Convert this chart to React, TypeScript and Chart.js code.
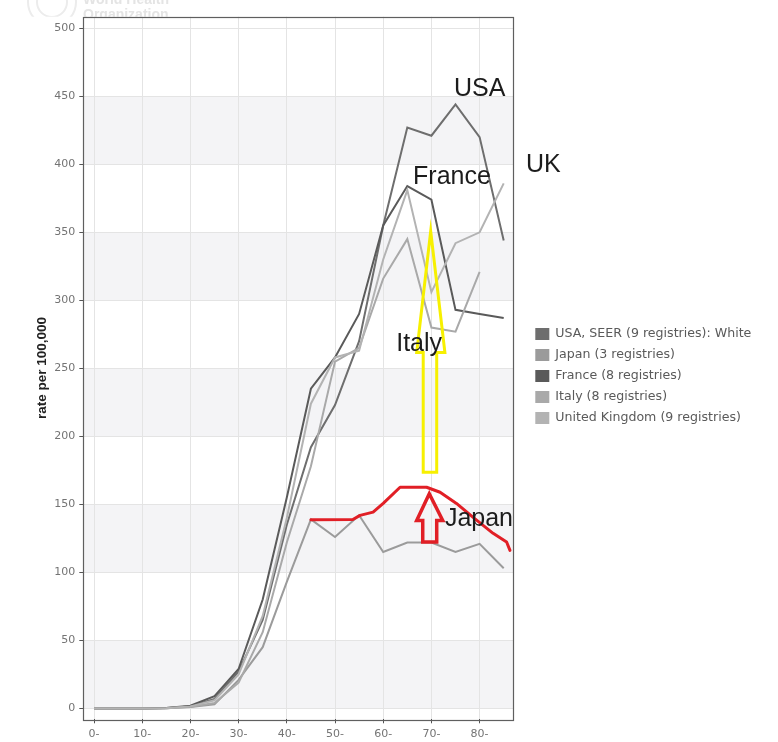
import React, { useEffect, useRef } from 'react';
import { Chart, registerables } from 'chart.js';

Chart.register(...registerables);

// ---- data ----
const ageGroups = [0, 5, 10, 15, 20, 25, 30, 35, 40, 45, 50, 55, 60, 65, 70, 75, 80, 85];
const xTicks = [0, 10, 20, 30, 40, 50, 60, 70, 80];
const yTicks = [0, 50, 100, 150, 200, 250, 300, 350, 400, 450, 500];

const usa = [0, 0, 0, 0.3, 1.5, 7, 27, 65, 135, 192, 223, 270, 355, 427, 421, 444, 420, 344];
const japan = [0, 0, 0, 0.2, 1, 3, 21, 45, 93, 139, 126, 142, 115, 122, 122, 115, 121, 103];
const france = [0, 0, 0, 0.3, 2, 9, 29, 80, 155, 235, 258, 290, 355, 384, 374, 293, 290, 287];
const italy = [0, 0, 0, 0.2, 1.2, 4, 19, 56, 122, 178, 255, 265, 316, 345, 280, 277, 321];
const uk = [0, 0, 0, 0.2, 1.5, 6, 25, 68, 140, 224, 258, 263, 330, 381, 306, 342, 350, 386];

const seriesNames = [
  'USA, SEER (9 registries): White',
  'Japan (3 registries)',
  'France (8 registries)',
  'Italy (8 registries)',
  'United Kingdom (9 registries)',
];
const seriesValues = [usa, japan, france, italy, uk];
const seriesColors = ['#6e6e6e', '#9b9b9b', '#5a5a5a', '#a9a9a9', '#b3b3b3'];

// ---- hand-drawn annotations (in data units) ----
const labelTexts = ['USA', 'France', 'UK', 'Italy', 'Japan'];
const labelAges = [74.7, 66.2, 89.6, 62.7, 72.8];
const labelValues = [450.2, 385.5, 394.6, 263, 134.1];

const redCurveAges = [45.0, 53.7, 55.2, 57.9, 60.0, 63.5, 69.0, 71.8, 75.2, 78.6, 82.8, 85.6, 86.3];
const redCurveValues = [138.7, 138.9, 141.9, 144.3, 150.7, 162.6, 162.6, 158.9, 150.7, 140.6, 128.7, 122.3, 116.2];

const yellowArrowAges = [69.85, 72.8, 71.1, 71.1, 68.3, 68.3, 66.95];
const yellowArrowValues = [350.8, 261.6, 261.6, 173.6, 173.6, 261.6, 261.6];

const redArrowAges = [69.56, 72.35, 71.1, 71.1, 68.2, 68.2, 66.95];
const redArrowValues = [157.8, 138.2, 138.2, 122.3, 122.3, 138.2, 138.2];

// ---- plugins ----
const bandsPlugin = {
  id: 'bands',
  beforeDraw(chart: any) {
    const { ctx, chartArea: a, scales } = chart;
    const y = scales.y;
    ctx.save();
    // faint logo above the panel
    ctx.beginPath();
    ctx.rect(0, 0, chart.width, a.top);
    ctx.clip();
    ctx.strokeStyle = '#ececec';
    ctx.lineWidth = 2;
    ctx.beginPath();
    ctx.arc(52, 2, 24, 0, Math.PI * 2);
    ctx.stroke();
    ctx.beginPath();
    ctx.arc(52, 2, 15, 0, Math.PI * 2);
    ctx.stroke();
    ctx.fillStyle = '#e4e4e4';
    ctx.font = 'bold 14px "Liberation Sans", Arial, sans-serif';
    ctx.textBaseline = 'alphabetic';
    ctx.fillText('World Health', 83, 4);
    ctx.fillText('Organization', 83, 18.5);
    ctx.restore();

    ctx.save();
    ctx.fillStyle = '#f4f4f6';
    for (let i = 0; i + 1 < yTicks.length - 1; i += 2) {
      const top = y.getPixelForValue(yTicks[i + 1]);
      const bot = y.getPixelForValue(yTicks[i]);
      ctx.fillRect(a.left, top, a.right - a.left, bot - top);
    }
    ctx.restore();
  },
};

function strokePoly(ctx: any, xs: number[], ys: number[], xScale: any, yScale: any, close: boolean) {
  ctx.beginPath();
  xs.forEach((v, i) => {
    const px = xScale.getPixelForValue(v);
    const py = yScale.getPixelForValue(ys[i]);
    if (i === 0) ctx.moveTo(px, py);
    else ctx.lineTo(px, py);
  });
  if (close) ctx.closePath();
  ctx.stroke();
}

const overlayPlugin = {
  id: 'overlay',
  afterDraw(chart: any) {
    const { ctx, chartArea: a, scales } = chart;
    const xs = scales.x;
    const ys = scales.y;

    // panel frame
    ctx.save();
    ctx.strokeStyle = '#5f5f5f';
    ctx.lineWidth = 1.2;
    ctx.strokeRect(Math.round(a.left) + 0.5, Math.round(a.top) + 0.5, Math.round(a.right - a.left), Math.round(a.bottom - a.top));
    ctx.restore();

    // annotations
    ctx.save();
    ctx.lineJoin = 'round';
    ctx.lineCap = 'round';
    ctx.strokeStyle = '#e11f26';
    ctx.lineWidth = 3;
    strokePoly(ctx, redCurveAges, redCurveValues, xs, ys, false);
    ctx.lineJoin = 'miter';
    ctx.lineWidth = 3.5;
    strokePoly(ctx, redArrowAges, redArrowValues, xs, ys, true);
    ctx.strokeStyle = '#f7f000';
    ctx.lineWidth = 3;
    strokePoly(ctx, yellowArrowAges, yellowArrowValues, xs, ys, true);

    ctx.fillStyle = '#1c1c1c';
    ctx.font = '25px "Liberation Sans", Arial, sans-serif';
    ctx.textAlign = 'left';
    ctx.textBaseline = 'alphabetic';
    labelTexts.forEach((t, i) => {
      ctx.fillText(t, xs.getPixelForValue(labelAges[i]), ys.getPixelForValue(labelValues[i]));
    });
    ctx.restore();

    // legend
    ctx.save();
    const x0 = a.right + 22;
    const cy = (a.top + a.bottom) / 2 + 8;
    const step = 21;
    ctx.font = '12.6px "DejaVu Sans", Verdana, sans-serif';
    ctx.textBaseline = 'middle';
    ctx.textAlign = 'left';
    seriesNames.forEach((n, i) => {
      const yy = cy + (i - 2) * step;
      ctx.fillStyle = seriesColors[i];
      ctx.fillRect(x0, yy - 6, 14, 12);
      ctx.fillStyle = '#5a5a5a';
      ctx.fillText(n, x0 + 20, yy);
    });
    ctx.restore();
  },
};

export default function App() {
  const ref = useRef<HTMLCanvasElement>(null);

  useEffect(() => {
    if (!ref.current) return;
    const datasets = seriesNames.map((name, i) => ({
      label: name,
      data: seriesValues[i].map((v, j) => ({ x: ageGroups[j], y: v })),
      borderColor: seriesColors[i],
      backgroundColor: seriesColors[i],
      borderWidth: 2,
      pointRadius: 0,
      tension: 0,
      fill: false,
      order: seriesNames.length - i,
    }));

    const chart = new Chart(ref.current, {
      type: 'line',
      data: { datasets },
      options: {
        animation: false,
        responsive: true,
        maintainAspectRatio: false,
        layout: { padding: { top: 16.7, right: 264.7, bottom: 0, left: 0 } },
        plugins: {
          legend: { display: false },
          tooltip: { enabled: false },
        },
        scales: {
          x: {
            type: 'linear',
            min: -2.22,
            max: 86.99,
            afterBuildTicks: (s: any) => {
              s.ticks = xTicks.map((v) => ({ value: v }));
            },
            afterFit: (s: any) => {
              s.height = 22.7;
            },
            grid: { color: '#e4e4e4', tickColor: '#555', tickLength: 4, lineWidth: 1 },
            border: { display: false },
            ticks: {
              callback: (v: any) => `${v}-`,
              color: '#747474',
              font: { family: '"DejaVu Sans", Verdana, sans-serif', size: 11 },
              padding: 4,
              maxRotation: 0,
              autoSkip: false,
            },
          },
          y: {
            type: 'linear',
            min: -8.0,
            max: 508.5,
            afterBuildTicks: (s: any) => {
              s.ticks = yTicks.map((v) => ({ value: v }));
            },
            afterFit: (s: any) => {
              s.width = 83.3;
            },
            grid: { color: '#e4e4e4', tickColor: '#555', tickLength: 4, lineWidth: 1 },
            border: { display: false },
            ticks: {
              color: '#747474',
              font: { family: '"DejaVu Sans", Verdana, sans-serif', size: 11 },
              padding: 4,
              autoSkip: false,
            },
            title: {
              display: true,
              text: 'rate per 100,000',
              color: '#222',
              font: { family: '"Liberation Sans", Arial, sans-serif', size: 13.5, weight: 'bold' },
              padding: { top: 34, bottom: 0 },
            },
          },
        },
      },
      plugins: [bandsPlugin, overlayPlugin],
    } as any);

    return () => chart.destroy();
  }, []);

  return (
    <div style={{ position: 'absolute', left: 0, top: 0, width: 778, height: 742, background: '#fff' }}>
      <canvas ref={ref} />
    </div>
  );
}
